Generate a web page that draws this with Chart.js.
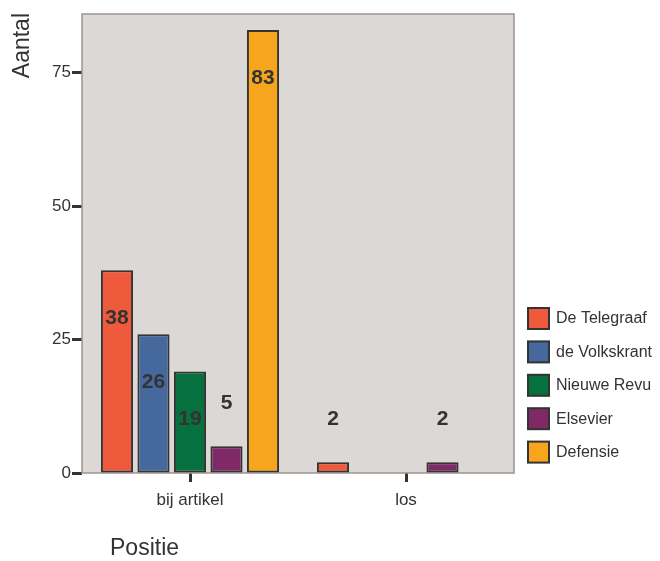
<!DOCTYPE html>
<html>
<head>
<meta charset="utf-8">
<script src="https://cdn.jsdelivr.net/npm/chart.js@4"></script>
<style>
  html, body { margin: 0; padding: 0; background: #fff; }
  #wrap { width: 660px; height: 561px; }
</style>
</head>
<body>
<div id="wrap"><canvas id="myChart" width="660" height="561"></canvas></div>
<script>
     // data
     var categories = ['bij artikel', 'los'];
     var telegraaf = [38, 2];
     var volkskrant = [26, null];
     var nieuweRevu = [19, null];
     var elsevier = [5, 2];
     var defensie = [83, null];
     var yTicks = [0, 25, 50, 75];

     var seriesNames = ['De Telegraaf', 'de Volkskrant', 'Nieuwe Revu', 'Elsevier', 'Defensie'];
     var seriesData = [telegraaf, volkskrant, nieuweRevu, elsevier, defensie];
     var seriesColors = ['#EF5A3D', '#45689D', '#07703F', '#7F2A66', '#F6A51D'];

     var fontFam = '"Liberation Sans", Arial, sans-serif';

     var datasets = seriesNames.map((name, i) => ({
          label : name,
          data : seriesData[i],
          backgroundColor : seriesColors[i],
          borderColor : '#333333',
          borderWidth : 2,
          borderSkipped : false,
          categoryPercentage : 0.845,
          barPercentage : 0.88
     }));

     // plot background + frame
     var frame = {
          id : 'frame',
          beforeDatasetsDraw(chart) {
               var ctx = chart.ctx, a = chart.chartArea;
               ctx.save();
               ctx.fillStyle = '#DCD8D5';
               ctx.fillRect(a.left, a.top, a.right - a.left, a.bottom - a.top);
               ctx.strokeStyle = '#9C938F';
               ctx.lineWidth = 1.5;
               ctx.strokeRect(a.left, a.top, a.right - a.left, a.bottom - a.top);
               ctx.restore();
          }
     };

     // value labels, titles and legend
     var extras = {
          id : 'extras',
          afterDraw(chart) {
               var ctx = chart.ctx, a = chart.chartArea;
               var y = chart.scales.y;
               ctx.save();
               ctx.fillStyle = '#333333';
               ctx.font = 'bold 21px ' + fontFam;
               ctx.textAlign = 'center';
               ctx.textBaseline = 'middle';
               chart.data.datasets.forEach((ds, i) => {
                    var meta = chart.getDatasetMeta(i);
                    meta.data.forEach((bar, j) => {
                         var v = ds.data[j];
                         if (v === null) return;
                         var pos = v < 10 ? v + 8 : v - 9;
                         ctx.fillText(v, bar.x, y.getPixelForValue(pos));
                    });
               });

               // axis titles
               ctx.font = '23px ' + fontFam;
               ctx.fillStyle = '#333333';
               ctx.textAlign = 'left';
               ctx.fillText('Positie', 110, 549);
               ctx.save();
               ctx.translate(23, a.top - 1);
               ctx.rotate(-Math.PI / 2);
               ctx.textAlign = 'right';
               ctx.fillText('Aantal', 0, 0);
               ctx.restore();

               // legend
               ctx.font = '16px ' + fontFam;
               ctx.textAlign = 'left';
               seriesNames.forEach((name, i) => {
                    var top = 308 + i * 33.4;
                    ctx.fillStyle = seriesColors[i];
                    ctx.fillRect(528, top, 21, 21);
                    ctx.strokeStyle = '#333333';
                    ctx.lineWidth = 2;
                    ctx.strokeRect(528, top, 21, 21);
                    ctx.fillStyle = '#333333';
                    ctx.fillText(name, 556, top + 11);
               });
               ctx.restore();
          }
     };

     var myChart = document.getElementById('myChart');
     var barchart = new Chart(myChart, {
          type : 'bar',
          data : { labels : categories, datasets : datasets },
          plugins : [frame, extras],
          options : {
               responsive : false,
               animation : false,
               layout : { padding : { left : 0, top : 14, right : 146, bottom : 0 } },
               plugins : { legend : { display : false }, tooltip : { enabled : false } },
               scales : {
                    x : {
                         grid : {
                              offset : false,
                              drawOnChartArea : false,
                              tickLength : 9,
                              tickWidth : 3,
                              tickColor : '#333333'
                         },
                         border : { display : false },
                         ticks : {
                              color : '#333333',
                              font : { family : fontFam, size : 17 },
                              padding : 8
                         },
                         afterFit(scale) { scale.height = 88; }
                    },
                    y : {
                         min : 0,
                         max : 86,
                         afterBuildTicks(scale) {
                              scale.ticks = yTicks.map(v => ({ value : v }));
                         },
                         grid : {
                              drawOnChartArea : false,
                              tickLength : 10,
                              tickWidth : 3,
                              tickColor : '#333333'
                         },
                         border : { display : false },
                         ticks : {
                              color : '#333333',
                              font : { family : fontFam, size : 17 },
                              padding : 1
                         },
                         afterFit(scale) { scale.width = 82; }
                    }
               }
          }
     });
</script>
</body>
</html>
